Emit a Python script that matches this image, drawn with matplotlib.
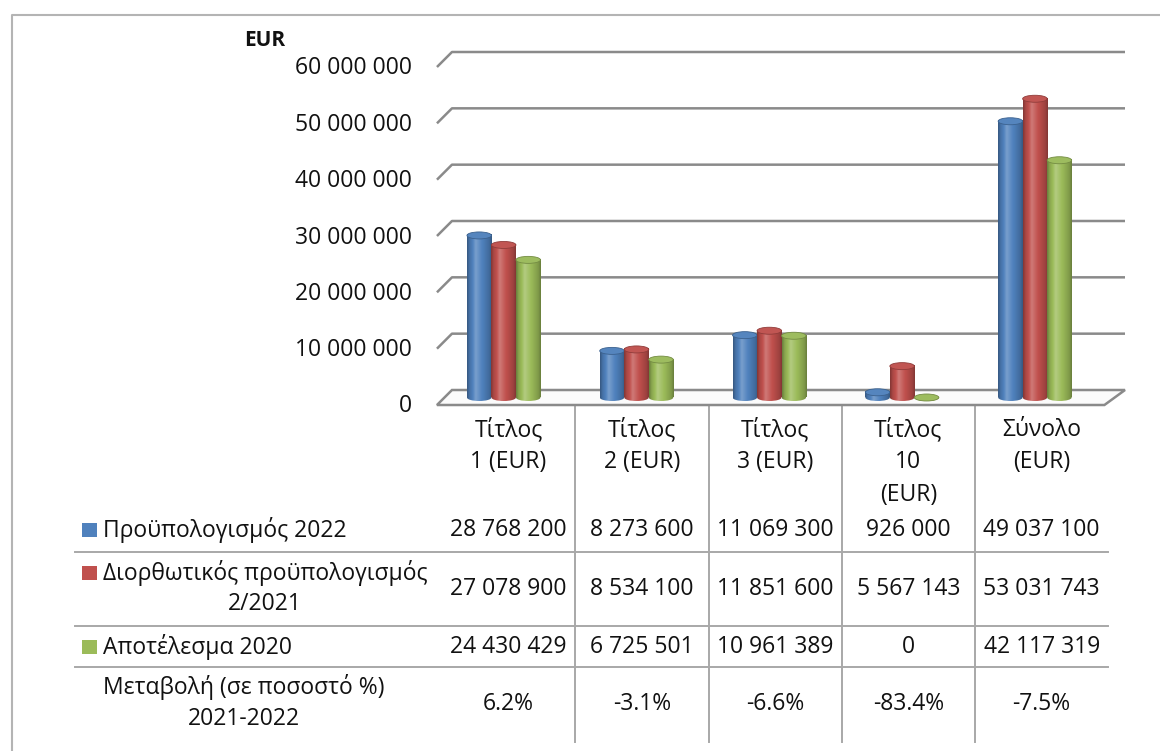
import numpy as np
import matplotlib
matplotlib.use("Agg")
import matplotlib.pyplot as plt
from matplotlib.patches import Ellipse, Polygon, Rectangle
from matplotlib.colors import to_rgb

plt.rcParams['font.family'] = ['Open Sans', 'DejaVu Sans']

# ---------------- data ----------------
categories = ["Τίτλος\n1 (EUR)", "Τίτλος\n2 (EUR)", "Τίτλος\n3 (EUR)",
              "Τίτλος\n10\n(EUR)", "Σύνολο\n(EUR)"]
series_names = ["Προϋπολογισμός 2022",
                "Διορθωτικός προϋπολογισμός\n2/2021",
                "Αποτέλεσμα 2020"]
budget_2022 = [28768200, 8273600, 11069300, 926000, 49037100]
revised_2021 = [27078900, 8534100, 11851600, 5567143, 53031743]
result_2020 = [24430429, 6725501, 10961389, 0, 42117319]
change_label = "Μεταβολή (σε ποσοστό %)\n2021-2022"
change_pct = ["6.2%", "-3.1%", "-6.6%", "-83.4%", "-7.5%"]
yticks = [0, 10000000, 20000000, 30000000, 40000000, 50000000, 60000000]
unit_label = "EUR"

series = [budget_2022, revised_2021, result_2020]
colors = ['#4F81BD', '#C0504D', '#9BBB59']

# ---------------- layout ----------------
W, H = 1160, 751
FS = 16.5
TXT = '#111111'
GRID_C = '#8a8a8a'
TABLE_C = '#a8a8a8'
fig = plt.figure(figsize=(W / 100, H / 100), dpi=100)
fig.patch.set_facecolor('white')

bg = fig.add_axes([0, 0, 1, 1])
bg.set_xlim(0, W)
bg.set_ylim(H, 0)
bg.axis('off')

ymin, ymax = -5e6, 60e6
x_left_px, x_right_px = 437.3, 1101.3
y0_px, y60_px = 397.5, 59.5
ppu = (y0_px - y60_px) / 60e6
bottom_px = y0_px + (0 - ymin) * ppu
top_px = y60_px
ax = fig.add_axes([x_left_px / W, (H - bottom_px) / H,
                   (x_right_px - x_left_px) / W, (bottom_px - top_px) / H])
ax.axis('off')
ax.set_zorder(2)


def gradient(c):
    base = np.array(to_rgb(c))
    t = np.linspace(0, 1, 64)
    f = np.interp(t, [0, 0.1, 0.35, 0.65, 0.9, 1.0],
                  [0.68, 0.88, 1.12, 0.98, 0.82, 0.68])
    rgb = np.empty((64, 3))
    for k, fk in enumerate(f):
        if fk >= 1:
            rgb[k] = base + (1 - base) * (fk - 1) * 2.0
        else:
            rgb[k] = base * fk
    return np.clip(rgb, 0, 1)[None, :, :]


bw = 0.1845
eh = 7.0 / ppu
x = np.arange(len(categories))
for i, (vals, c) in enumerate(zip(series, colors)):
    xs = x + (i - 1) * bw
    bars = ax.bar(xs, vals, width=bw, color='none', edgecolor='none')
    grad = gradient(c)
    base = np.array(to_rgb(c))
    for rect in bars:
        x0, w, h = rect.get_x(), rect.get_width(), rect.get_height()
        if h > 0:
            ax.imshow(grad, extent=(x0, x0 + w, 0, h), aspect='auto',
                      interpolation='bilinear', zorder=3 + i * 0.1)
        e = Ellipse((x0 + w / 2, 0), w, eh, fc='none', ec='none')
        ax.add_patch(e)
        im2 = ax.imshow(grad, extent=(x0, x0 + w, -eh / 2, 0), aspect='auto',
                        interpolation='bilinear', zorder=3 + i * 0.1)
        im2.set_clip_path(e)
        top_c = np.clip(base * 0.95 + 0.04, 0, 1)
        ax.add_patch(Ellipse((x0 + w / 2, h), w, eh, fc=top_c,
                             ec=base * 0.75, lw=0.6, zorder=3.05 + i * 0.1))

ax.set_xlim(-0.5, 4.5)
ax.set_ylim(ymin, ymax)

D = 7.5


def to_px(xd, v, depth):
    dx, dy = ax.transData.transform((xd, v))
    return dx + depth * D, (H - dy) - depth * D


XL, XR_back, XR_front = -0.446, 4.622, 4.58

# outer border
bg.plot([11.5, 11.5, W], [H, 14.5, 14.5], color='#b4b4b4', lw=1.5, zorder=1)

# floor
pts = [to_px(XL, 0, -1), to_px(XL, 0, 1), to_px(XR_back, 0, 1), to_px(XR_front, 0, -1)]
bg.add_patch(Polygon(pts, closed=True, fc='#fbfbfb', ec=GRID_C, lw=1.8, zorder=2))

# gridlines on back wall and side diagonals
for v in yticks[1:]:
    fx, fy = to_px(XL, v, -1)
    bx, by = to_px(XL, v, 1)
    ex, ey = to_px(XR_back, v, 1)
    bg.plot([fx, bx, ex], [fy, by, ey], color=GRID_C, lw=1.8, zorder=2,
            solid_capstyle='butt')

# tick labels
for v in yticks:
    fx, fy = to_px(XL, v, -1)
    bg.text(fx - 25, fy + 1.5, f"{v:,}".replace(",", " "), ha='right', va='center',
            fontsize=FS, color=TXT)
bg.text(265, 41, unit_label, ha='center', va='center', fontsize=FS - 1.5,
        fontweight='bold', color=TXT)

# ---------------- data table ----------------
tbl_left, col_w = 442.0, 133.25
tbl_right = tbl_left + 5 * col_w
col_centers = [tbl_left + col_w * (k + 0.5) for k in range(5)]
for k in range(1, 5):
    xv = tbl_left + col_w * k
    bg.plot([xv, xv], [405, 742], color=TABLE_C, lw=1.4, zorder=1)
for yl in [552, 626, 667]:
    bg.plot([75, tbl_right], [yl, yl], color=TABLE_C, lw=1.4, zorder=1)

for k, cat in enumerate(categories):
    for j, line in enumerate(cat.split("\n")):
        bg.text(col_centers[k], 430 + 32.5 * j, line, ha='center', va='center',
                fontsize=FS, color=TXT)

row_y = [530, 589, 647]
first_line_y = [530, 573, 647]
renderer = fig.canvas.get_renderer()
LABEL_X = 103


def row_label(text, y_first, pitch):
    lines = text.split("\n")
    t0 = bg.text(LABEL_X, y_first, lines[0], ha='left', va='center',
                 fontsize=FS, color=TXT)
    bb = t0.get_window_extent(renderer)
    cx = (bb.x0 + bb.x1) / 2
    for j, line in enumerate(lines[1:], start=1):
        bg.text(cx, y_first + pitch * j, line, ha='center', va='center',
                fontsize=FS, color=TXT)


for s, (name, vals, c) in enumerate(zip(series_names, series, colors)):
    bg.add_patch(Rectangle((82, first_line_y[s] - 7), 14.5, 14, fc=c, ec='none'))
    row_label(name, first_line_y[s], 31)
    for k, v in enumerate(vals):
        bg.text(col_centers[k], row_y[s], f"{v:,}".replace(",", " "),
                ha='center', va='center', fontsize=FS, color=TXT)

row_label(change_label, 687, 32)
for k, p in enumerate(change_pct):
    bg.text(col_centers[k], 704, p, ha='center', va='center', fontsize=FS, color=TXT)

fig.savefig('out.png', dpi=100, facecolor='white')
